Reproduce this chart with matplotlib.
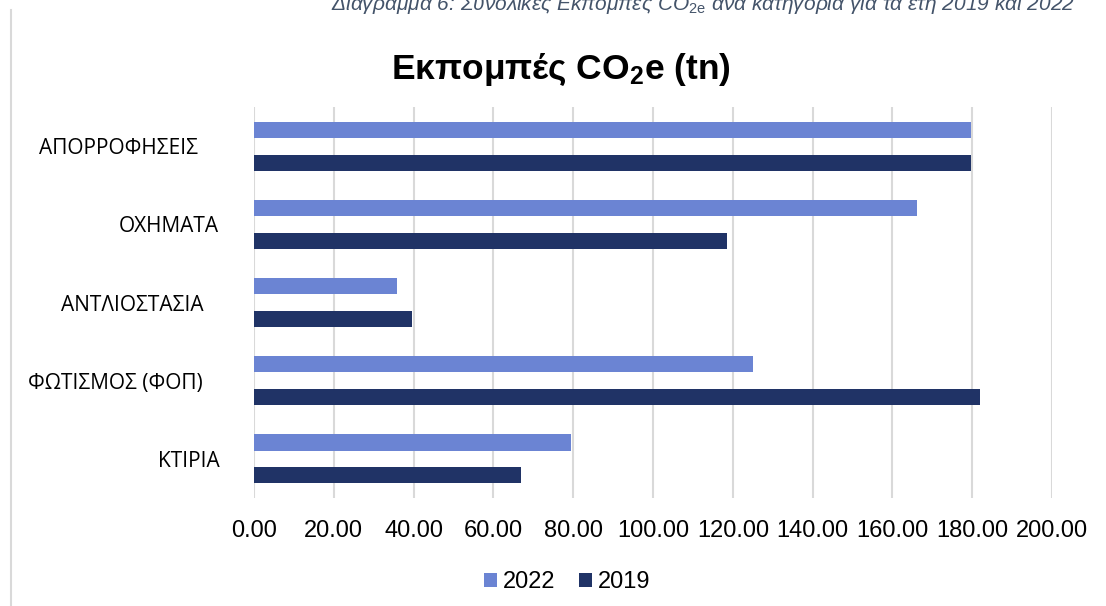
import numpy as np
import matplotlib
matplotlib.use("Agg")
import matplotlib.pyplot as plt
from matplotlib.lines import Line2D

plt.rcParams["mathtext.fontset"] = "custom"
plt.rcParams["mathtext.rm"] = "Liberation Sans"
plt.rcParams["mathtext.it"] = "Liberation Sans:italic"
plt.rcParams["mathtext.bf"] = "Liberation Sans:bold"

# emissions per category (tn CO2e), bottom to top as drawn
categories = ["ΚΤΙΡΙΑ", "ΦΩΤΙΣΜΟΣ (ΦΟΠ)   ", "ΑΝΤΛΙΟΣΤΑΣΙΑ   ", "ΟΧΗΜΑΤΑ", "ΑΠΟΡΡΟΦΗΣΕΙΣ    "]
em_2022 = [79.4, 125.1, 35.9, 166.2, 179.6]
em_2019 = [67.0, 182.0, 39.7, 118.6, 179.6]
xticks = [0, 20, 40, 60, 80, 100, 120, 140, 160, 180, 200]

c2022 = "#6B84D3"
c2019 = "#203366"
grid_c = "#D9D9D9"

fig = plt.figure(figsize=(11.06, 6.06), dpi=100)
ax = fig.add_axes([0.2297, 0.1782, 0.7215, 0.6452])

y = np.arange(len(categories))
bh = 0.205
off = 0.21
ax.barh(y + off, em_2022, height=bh, color=c2022, label="2022", zorder=3)
ax.barh(y - off, em_2019, height=bh, color=c2019, label="2019", zorder=3)

ax.set_xlim(0, 200)
ax.set_ylim(-0.5, len(categories) - 0.5)
ax.set_xticks(xticks)
ax.set_xticklabels([f"{v:.2f}" for v in xticks], fontsize=17, family="Liberation Sans")
ax.set_yticks(y)
ax.set_yticklabels(categories, fontsize=15, family="Open Sans")
ax.tick_params(axis="x", length=0, pad=16)
ax.tick_params(axis="y", length=0, pad=25)
for s in ax.spines.values():
    s.set_visible(False)
ax.grid(axis="x", color=grid_c, linewidth=1.5, zorder=0)
ax.set_axisbelow(True)

fig.text(0.507, 1 - 70 / 606, r"Εκπομπές CO$_{\mathbf{2}}$e (tn)", ha="center", va="center",
         fontsize=25.5, fontweight="bold", family="Liberation Sans")

# caption above the chart, partly cut off by the top edge
fig.text(1075 / 1106, 1 - 10 / 606,
         r"Διάγραμμα 6: Συνολικές Εκπομπές CO$_{\mathrm{2e}}$ ανά κατηγορία για τα έτη 2019 και 2022",
         ha="right", va="baseline", fontsize=15, style="italic", color="#44546A",
         family="Liberation Sans")

# left border of the chart frame
fig.add_artist(Line2D([11 / 1106, 11 / 1106], [0, 1 - 10 / 606], color=grid_c,
                      linewidth=1.5, transform=fig.transFigure))

fig.legend(loc="center", bbox_to_anchor=(567 / 1106, 1 - 582 / 606), ncol=2,
           frameon=False, prop={"family": "Liberation Sans", "size": 17},
           handlelength=0.55, handleheight=0.55, handletextpad=0.25,
           columnspacing=1.0, borderpad=0)

fig.savefig("out.png", dpi=100)
